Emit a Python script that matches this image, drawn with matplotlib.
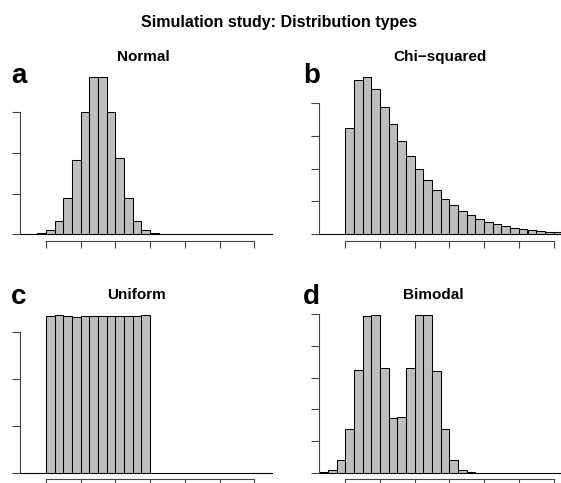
import matplotlib
matplotlib.use("Agg")
import matplotlib.pyplot as plt
import numpy as np

plt.rcParams['font.family'] = ['Liberation Sans', 'DejaVu Sans']

# bin edges (in tick units), shared by all four histograms
bin_edges = np.arange(-0.75, 6.51, 0.25)

normal_counts = [0, 0, 0.02, 0.10, 0.33, 0.88, 1.83, 3.0, 3.85, 3.85, 3.0, 1.86,
                 0.90, 0.33, 0.10, 0.02] + [0] * 13

chisq_counts = [0, 0, 0, 3.24, 4.69, 4.77, 4.41, 3.86, 3.34, 2.85, 2.37, 1.97,
                1.64, 1.34, 1.07, 0.88, 0.71, 0.58, 0.46, 0.36, 0.30, 0.24,
                0.18, 0.15, 0.12, 0.09, 0.08, 0.06, 0.05]

uniform_counts = [0, 0, 0, 3.34, 3.36, 3.35, 3.31, 3.35, 3.34, 3.34, 3.35, 3.34,
                  3.35, 3.35, 3.36] + [0] * 14

bimodal_counts = [0.01, 0.07, 0.39, 1.37, 3.24, 4.94, 4.96, 3.31, 1.74, 1.76,
                  3.29, 4.96, 4.96, 3.22, 1.37, 0.39, 0.07, 0.02] + [0] * 11

panels = [
    # letter, title, counts, y ticks, pixel geometry (left, baseline, px per y unit, top)
    ("a", "Normal", normal_counts, [0, 1, 2, 3], (20, 234.3, 40.8, 60)),
    ("b", "Chi\u2212squared", chisq_counts, [0, 1, 2, 3, 4], (319.3, 234.3, 32.9, 60)),
    ("c", "Uniform", uniform_counts, [0, 1, 2, 3], (20, 472.7, 46.9, 300)),
    ("d", "Bimodal", bimodal_counts, [0, 1, 2, 3, 4, 5], (319.3, 472.7, 31.7, 300)),
]

W, H = 561, 483
PX_X = 34.7  # pixels per x tick unit

fig = plt.figure(figsize=(W / 100, H / 100), dpi=100)

for letter, title, counts, yticks, (left, base, py, top) in panels:
    width = (bin_edges[-1] - bin_edges[0]) * PX_X
    ax = fig.add_axes([left / W, 1 - base / H, width / W, (base - top) / H])
    ax.bar(bin_edges[:-1], counts, width=0.25, align='edge',
           color='#bebebe', edgecolor='black', linewidth=0.75, clip_on=False)
    ax.axhline(0, color='black', linewidth=0.75, clip_on=False)
    ax.set_xlim(bin_edges[0], bin_edges[-1])
    ax.set_ylim(0, (base - top) / py)

    for s in ['top', 'right']:
        ax.spines[s].set_visible(False)
    ax.spines['bottom'].set_position(('outward', 4.7))
    ax.spines['bottom'].set_bounds(0, 6)
    ax.spines['left'].set_bounds(0, yticks[-1])
    for s in ['bottom', 'left']:
        ax.spines[s].set_color('#444444')
        ax.spines[s].set_linewidth(0.8)

    ax.set_xticks(range(7))
    ax.set_yticks(yticks)
    ax.set_xticklabels([])
    ax.set_yticklabels([])
    ax.tick_params(axis='x', length=5.3, width=0.8, color='#444444')
    ax.tick_params(axis='y', length=5.8, width=0.8, color='#444444')

    # panel title and letter
    tx = 143 if left < 100 else 440
    if letter in "cd":
        tx -= 7
    ty = 61 if letter in "ab" else 299
    fig.text(tx / W, 1 - ty / H, title, ha='center', va='baseline',
             fontsize=11, fontweight='bold')
    lx = 11 if left < 100 else 303
    ly = 83 if letter in "ab" else 304
    fig.text(lx / W, 1 - ly / H, letter, ha='left', va='baseline',
             fontsize=20, fontweight='bold')

fig.text(279 / W, 1 - 26.5 / H, "Simulation study: Distribution types",
         ha='center', va='baseline', fontsize=11.5, fontweight='bold')

fig.savefig("out.png", dpi=100)
